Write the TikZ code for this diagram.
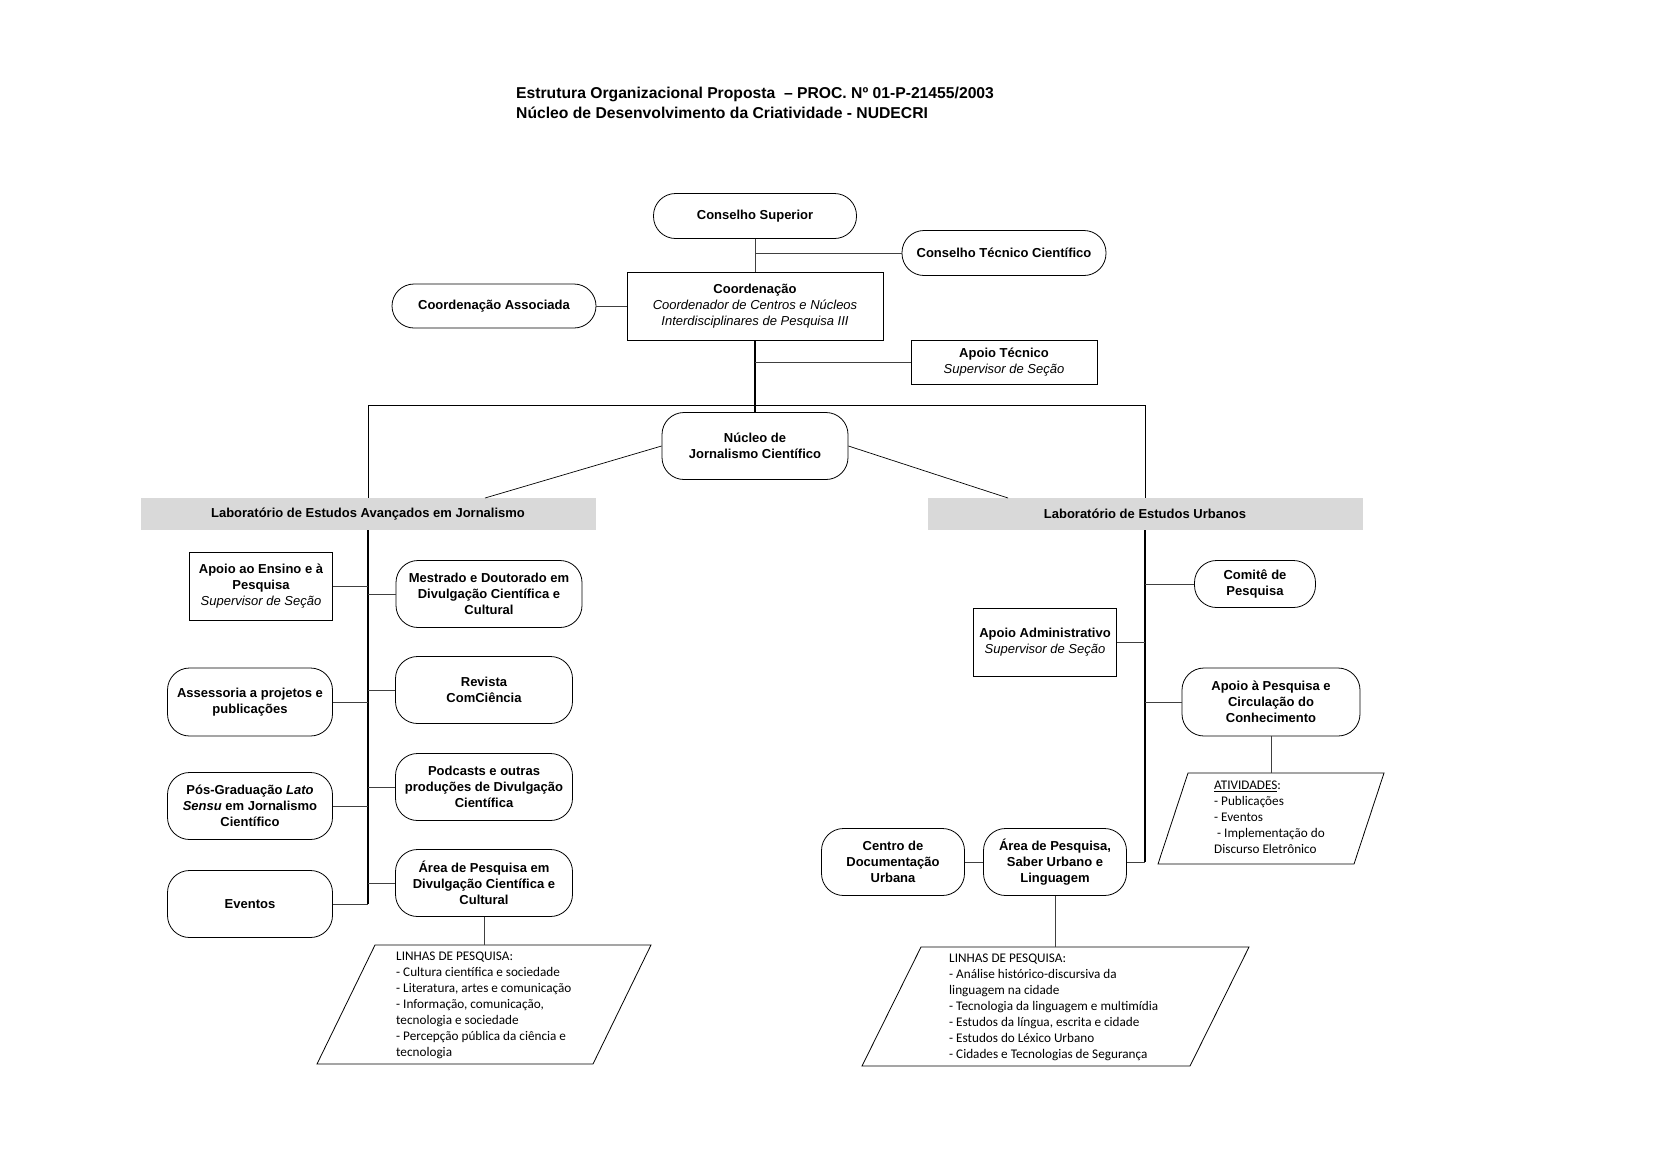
\documentclass[tikz,border=0pt]{standalone}
\usepackage{fontspec}
\setmainfont{Liberation Sans}
\newfontfamily\calibri{Carlito}
\usetikzlibrary{positioning}
\newcommand{\cargo}[1]{{\mdseries\itshape #1}}

\begin{document}
\begin{tikzpicture}[x=1pt, y=-1pt,
    font=\fontsize{13}{16}\selectfont\bfseries,
    dims/.style 2 args={minimum width=#1, minimum height=#2},
    rbox/.style={draw, line width=0.8pt, rounded corners=22pt, align=center, inner sep=2pt},
    sbox/.style={draw, line width=0.8pt, align=center, inner sep=2pt},
    labbox/.style={fill=black!15, minimum height=32pt, align=center},
    branch/.style={line width=0.7pt, black!75},
    trunk/.style={line width=1.2pt},
    listtext/.style={anchor=north west, inner sep=0pt, align=left, font=\calibri\fontsize{13.2}{16}\selectfont}]
  \useasboundingbox (0,0) rectangle (1653,1168);

  \node[anchor=west, inner sep=0pt, font=\fontsize{15.7}{19}\selectfont\bfseries] (title1) at (516,94) {Estrutura Organizacional Proposta \ – PROC. Nº 01-P-21455/2003};
  \node[anchor=west, inner sep=0pt, font=\fontsize{15.7}{19}\selectfont\bfseries] (title2) at (516,113) {Núcleo de Desenvolvimento da Criatividade - NUDECRI};

  \node[rbox, dims={203pt}{45pt}] (consup) at (755,216) {Conselho Superior};
  \node[rbox, dims={204pt}{45pt}] (contec) at (1004,253) {Conselho Técnico Científico};
  \node[sbox, dims={256pt}{68pt}] (coord) at (755,306) {Coordenação\\\cargo{Coordenador de Centros e Núcleos}\\\cargo{Interdisciplinares de Pesquisa III}};
  \node[rbox, dims={204pt}{44pt}] (coordassoc) at (494,306) {Coordenação Associada};
  \node[sbox, dims={186pt}{44pt}] (apoiotec) at (1004,362) {Apoio Técnico\\\cargo{Supervisor de Seção}};
  \node[rbox, dims={186pt}{67pt}] (nucleo) at (755,446) {Núcleo de\\Jornalismo Científico};

  \node[labbox, minimum width=455pt] (labL) at (368,514) {Laboratório de Estudos Avançados em Jornalismo};
  \node[labbox, minimum width=435pt] (labR) at (1145,514) {Laboratório de Estudos Urbanos};

  \coordinate (split) at (755,405);
  \coordinate (ljoin) at (485,498);
  \coordinate (rjoin) at (1008,498);

  \draw[branch] (consup.south) -- (coord.north);
  \draw[branch] (contec.west) -- (contec.west -| consup.south);
  \draw[branch] (coordassoc.east) -- (coord.west);
  \draw[trunk] (coord.south) -- (nucleo.north);
  \draw[branch] (apoiotec.west) -- (apoiotec.west -| coord.south);
  \draw[line width=0.7pt] (labL.north) |- (split) -| (labR.north);
  \draw[line width=0.7pt] (nucleo.west) -- (ljoin);
  \draw[line width=0.7pt] (nucleo.east) -- (rjoin);

  % laboratorio de jornalismo
  \node[sbox, dims={143pt}{68pt}] (apoioens) at (261,586) {Apoio ao Ensino e à\\Pesquisa\\\cargo{Supervisor de Seção}};
  \node[rbox, dims={186pt}{67pt}] (mestrado) at (489,594) {Mestrado e Doutorado em\\Divulgação Científica e\\Cultural};
  \node[rbox, dims={165pt}{68pt}] (assessoria) at (250,702) {Assessoria a projetos e\\publicações};
  \node[rbox, dims={177pt}{67pt}] (revista) at (484,690) {Revista\\ComCiência};
  \node[rbox, dims={165pt}{67pt}] (posgrad) at (250,806) {Pós-Graduação \textit{Lato}\\\textit{Sensu} em Jornalismo\\Científico};
  \node[rbox, dims={177pt}{67pt}] (podcasts) at (484,787) {Podcasts e outras\\produções de Divulgação\\Científica};
  \node[rbox, dims={165pt}{67pt}] (eventos) at (250,904) {Eventos};
  \node[rbox, dims={177pt}{67pt}] (areaDC) at (484,883) {Área de Pesquisa em\\Divulgação Científica e\\Cultural};

  \draw[trunk] (labL.south) -- (labL.south |- eventos.east);
  \draw[branch] (eventos.east) -- (labL.south |- eventos.east);
  \foreach \n in {apoioens, assessoria, posgrad}
    \draw[branch] (\n.east) -- (\n.east -| labL.south);
  \foreach \n in {mestrado, revista, podcasts, areaDC}
    \draw[branch] (\n.west) -- (\n.west -| labL.south);

  \coordinate (linhasL) at (484,945);
  \draw[line width=0.8pt] (375,945) -- (651,945) -- (593,1064) -- (317,1064) -- cycle;
  \draw[branch] (areaDC.south) -- (linhasL);
  \node[listtext] (txtL) at (396,952) {LINHAS DE PESQUISA:\\- Cultura científica e sociedade\\- Literatura, artes e comunicação\\- Informação, comunicação,\\tecnologia e sociedade\\- Percepção pública da ciência e\\tecnologia};

  % laboratorio de estudos urbanos
  \node[rbox, dims={121pt}{47pt}] (comite) at (1255,584) {Comitê de\\Pesquisa};
  \node[sbox, dims={143pt}{68pt}] (apoioadm) at (1045,642) {Apoio Administrativo\\\cargo{Supervisor de Seção}};
  \node[rbox, dims={178pt}{68pt}] (apoiopesq) at (1271,702) {Apoio à Pesquisa e\\Circulação do\\Conhecimento};
  \node[rbox, dims={143pt}{67pt}] (areaSU) at (1055,862) {Área de Pesquisa,\\Saber Urbano e\\Linguagem};
  \node[rbox, dims={143pt}{67pt}] (centrodoc) at (893,862) {Centro de\\Documentação\\Urbana};

  \draw[trunk] (labR.south) -- (labR.south |- areaSU.east);
  \draw[branch] (areaSU.east) -- (labR.south |- areaSU.east);
  \draw[branch] (centrodoc.east) -- (areaSU.west);
  \draw[branch] (apoioadm.east) -- (apoioadm.east -| labR.south);
  \foreach \n in {comite, apoiopesq}
    \draw[branch] (\n.west) -- (\n.west -| labR.south);

  \coordinate (ativ) at (1271,773);
  \draw[line width=0.8pt] (1188,773) -- (1384,773) -- (1354,864) -- (1158,864) -- cycle;
  \draw[branch] (apoiopesq.south) -- (ativ);
  \node[listtext] (txtA) at (1214,781) {\underline{ATIVIDADES}:\\- Publicações\\- Eventos\\\ - Implementação do\\Discurso Eletrônico};

  \coordinate (linhasR) at (1055,947);
  \draw[line width=0.8pt] (921,947) -- (1249,947) -- (1190,1066) -- (862,1066) -- cycle;
  \draw[branch] (areaSU.south) -- (linhasR);
  \node[listtext] (txtR) at (949,954) {LINHAS DE PESQUISA:\\- Análise histórico-discursiva da\\linguagem na cidade\\- Tecnologia da linguagem e multimídia\\- Estudos da língua, escrita e cidade\\- Estudos do Léxico Urbano\\- Cidades e Tecnologias de Segurança};
\end{tikzpicture}
\end{document}
